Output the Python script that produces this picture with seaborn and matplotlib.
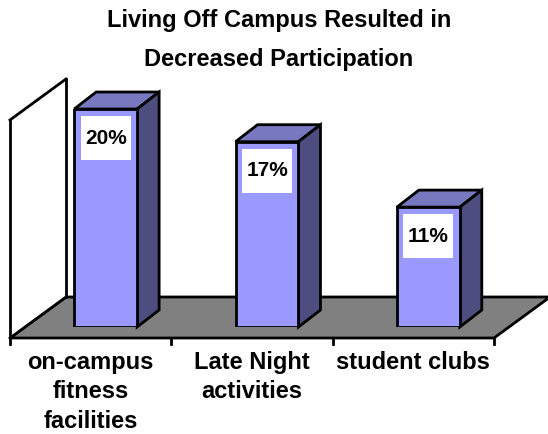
import seaborn as sns
import matplotlib
matplotlib.use('Agg')
import matplotlib.pyplot as plt
from matplotlib.patches import Polygon, Rectangle

categories = ['on-campus\nfitness\nfacilities', 'Late Night\nactivities', 'student clubs']
values = [20, 17, 11]
value_labels = ['20%', '17%', '11%']
title = 'Living Off Campus Resulted in\nDecreased Participation'

FRONT = '#9999FF'
TOP = '#7878C0'
SIDE = '#4D4D80'
FLOOR = '#808080'

sns.set_theme(style='white')
plt.rcParams['font.family'] = ['Liberation Sans', 'DejaVu Sans']
plt.rcParams['text.color'] = 'black'

W, H = 548, 434
fig = plt.figure(figsize=(W / 100, H / 100), dpi=100)
# axes = the plane of the bar front faces
ax = fig.add_axes([25 / W, 107 / H, 484 / W, 218 / H])
sns.barplot(x=categories, y=values, ax=ax, color=FRONT, saturation=1,
            width=0.39, edgecolor='black', linewidth=2, zorder=3)
ax.set_xlim(-0.5, 2.5)
ax.set_ylim(0, 20)
ax.axis('off')
bars = list(ax.patches)

# data units per pixel
px_x = 3 / 484
px_y = 20 / 218


def off(x, y, dx, dy):
    return (x + dx * px_x, y + dy * px_y)


def line(p0, p1, z=2):
    ax.plot([p0[0], p1[0]], [p0[1], p1[1]], color='black', lw=2,
            clip_on=False, zorder=z, solid_capstyle='projecting')


# floor and left wall (3d look)
front, back = (-15, -11), (41, 30)
floor = [off(-0.5, 0, *front), off(2.5, 0, *front), off(2.5, 0, *back), off(-0.5, 0, *back)]
ax.add_patch(Polygon(floor, fc=FLOOR, ec='black', lw=2, clip_on=False, zorder=1))
wall = [off(-0.5, 0, *front), off(-0.5, 20, *front), off(-0.5, 20, *back), off(-0.5, 0, *back)]
ax.add_patch(Polygon(wall, fc='white', ec='none', clip_on=False, zorder=1.2))
for a, b in zip(wall, wall[1:] + wall[:1]):
    line(a, b, z=10)

# ticks and category labels along the floor's front edge
for b in [-0.5, 0.5, 1.5, 2.5]:
    line(off(b, 0, -15, -11), off(b, 0, -15, -17))
for i, lab in enumerate(categories):
    ax.text(*off(i, 0, -15, -24), lab, ha='center', va='top', fontsize=17,
            fontweight='bold', linespacing=1.36, color='black')

# bar tops, sides and value boxes
for p, lab in zip(bars, value_labels):
    x0, w, h = p.get_x(), p.get_width(), p.get_height()
    top = [(x0, h), (x0 + w, h), off(x0 + w, h, 22, 17), off(x0, h, 22, 17)]
    side = [(x0 + w, 0), off(x0 + w, 0, 22, 17), off(x0 + w, h, 22, 17), (x0 + w, h)]
    ax.add_patch(Polygon(top, fc=TOP, ec='black', lw=2, zorder=2.5, clip_on=False))
    ax.add_patch(Polygon(side, fc=SIDE, ec='black', lw=2, zorder=2.5, clip_on=False))
    xc = x0 + w / 2
    ax.add_patch(Rectangle((xc - 25 * px_x, h - 51 * px_y), 50 * px_x, 44 * px_y,
                           fc='white', ec='none', zorder=4, clip_on=False))
    ax.text(xc, h - 29 * px_y, lab, ha='center', va='center', fontsize=15,
            fontweight='bold', zorder=5, color='black')

fig.text(279 / W, 1 - 9 / H, title, ha='center', va='top', fontsize=17,
         fontweight='bold', linespacing=1.9, color='black')

plt.savefig('out.png', dpi=100)
plt.close(fig)
